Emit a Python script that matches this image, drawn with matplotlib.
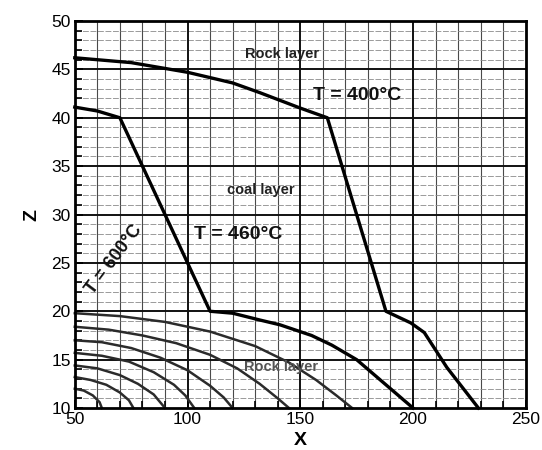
import matplotlib
matplotlib.use("Agg")
import matplotlib.pyplot as plt
from matplotlib.ticker import MultipleLocator

plt.rcParams['font.family'] = ['Liberation Sans', 'DejaVu Sans']

# Isotherm T = 400 °C
x_400 = [50, 75, 100, 120, 132, 141, 150, 162, 188, 199, 205, 215, 222, 229]
z_400 = [46.2, 45.7, 44.7, 43.6, 42.6, 41.8, 41.0, 40.0, 20.0, 18.8, 17.8, 14.2, 12.1, 10.0]

# Isotherm T = 460 °C
x_460 = [50, 60, 70, 110, 120, 132, 141, 155, 164, 175, 182, 188, 200]
z_460 = [41.1, 40.7, 40.0, 20.0, 19.8, 19.1, 18.6, 17.5, 16.5, 15.0, 13.6, 12.4, 10.0]

# Inner isotherms (up to T = 600 °C) in the lower rock layer
iso1_x = [50, 70, 90, 110, 130, 145, 157, 166, 173]
iso1_z = [19.8, 19.5, 18.9, 17.9, 16.4, 14.7, 12.9, 11.3, 10.0]
iso2_x = [50, 65, 80, 95, 110, 122, 132, 140, 145]
iso2_z = [18.4, 18.1, 17.5, 16.7, 15.5, 14.1, 12.5, 11.0, 10.0]
iso3_x = [50, 62, 75, 88, 100, 110, 116, 120]
iso3_z = [17.0, 16.8, 16.2, 15.2, 13.9, 12.3, 11.1, 10.0]
iso4_x = [50, 62, 74, 85, 94, 99, 103]
iso4_z = [15.7, 15.4, 14.8, 13.7, 12.4, 11.3, 10.0]
iso5_x = [50, 60, 70, 78, 85, 90]
iso5_z = [14.4, 14.1, 13.4, 12.5, 11.4, 10.0]
iso6_x = [50, 57, 64, 70, 74, 76]
iso6_z = [13.2, 12.9, 12.4, 11.6, 10.8, 10.0]
iso7_x = [50, 54, 58, 61, 62]
iso7_z = [12.0, 11.8, 11.3, 10.6, 10.0]

x_ticks = [50, 100, 150, 200, 250]
z_ticks = [10, 15, 20, 25, 30, 35, 40, 45, 50]

fig = plt.figure(figsize=(5.42, 4.5), dpi=100)
ax = fig.add_axes([0.138, 0.0933, 0.832, 0.86])
ax.set_xlim(50, 250)
ax.set_ylim(10, 50)

# grid: fine lines every 10 in X and every 1 in Z, heavy lines at major ticks
for xv in range(60, 250, 10):
    if xv % 50:
        ax.axvline(xv, color='#4a4a4a', lw=0.8, zorder=1)
for zv in range(11, 50):
    if zv % 5:
        ax.axhline(zv, color='#8a8a8a', lw=0.6, ls=(0, (7, 2)), zorder=1)
for xv in [100, 150, 200]:
    ax.axvline(xv, color='#111111', lw=1.4, zorder=1.5)
for zv in range(15, 50, 5):
    ax.axhline(zv, color='#111111', lw=1.4, zorder=1.5)

# inner isotherms
for xs, zs in [(iso1_x, iso1_z), (iso2_x, iso2_z), (iso3_x, iso3_z),
               (iso4_x, iso4_z), (iso5_x, iso5_z), (iso6_x, iso6_z),
               (iso7_x, iso7_z)]:
    ax.plot(xs, zs, color='#2b2b2b', lw=1.8, zorder=3, clip_on=False)

ax.plot(x_400, z_400, color='black', lw=2.4, zorder=4, clip_on=False)
ax.plot(x_460, z_460, color='black', lw=2.4, zorder=4, clip_on=False)

# annotations
ax.text(141.8, 46.6, 'Rock layer', fontsize=10.5, fontweight='bold',
        color='#222222', ha='center', va='center', zorder=5)
ax.text(132.5, 32.5, 'coal layer', fontsize=10.5, fontweight='bold',
        color='#222222', ha='center', va='center', zorder=5)
ax.text(141.4, 14.2, 'Rock layer', fontsize=10.5, fontweight='bold',
        color='#555555', ha='center', va='center', zorder=5)
ax.text(175, 42.35, 'T = 400°C', fontsize=14, fontweight='bold',
        color='#111111', ha='center', va='center', zorder=5)
ax.text(122.3, 27.9, 'T = 460°C', fontsize=14, fontweight='bold',
        color='#111111', ha='center', va='center', zorder=5)
ax.text(67.5, 25.3, 'T = 600°C', fontsize=13, fontweight='bold',
        color='#111111', ha='center', va='center', rotation=53,
        rotation_mode='anchor', zorder=5)

ax.set_xticks(x_ticks)
ax.set_yticks(z_ticks)
ax.xaxis.set_minor_locator(MultipleLocator(10))
ax.yaxis.set_minor_locator(MultipleLocator(1))
ax.tick_params(axis='both', which='major', direction='in', length=6,
               width=1.4, labelsize=12.5, pad=3)
ax.tick_params(axis='both', which='minor', direction='in', length=5,
               width=1.2)
ax.tick_params(axis='x', which='major', pad=3)

for sp in ax.spines.values():
    sp.set_linewidth(2.0)
    sp.set_zorder(6)

ax.set_xlabel('X', fontsize=14, fontweight='bold')
ax.xaxis.set_label_coords(0.5, -0.062)
ax.set_ylabel('Z', fontsize=14, fontweight='bold', labelpad=8)

fig.savefig('out.png', dpi=100)
